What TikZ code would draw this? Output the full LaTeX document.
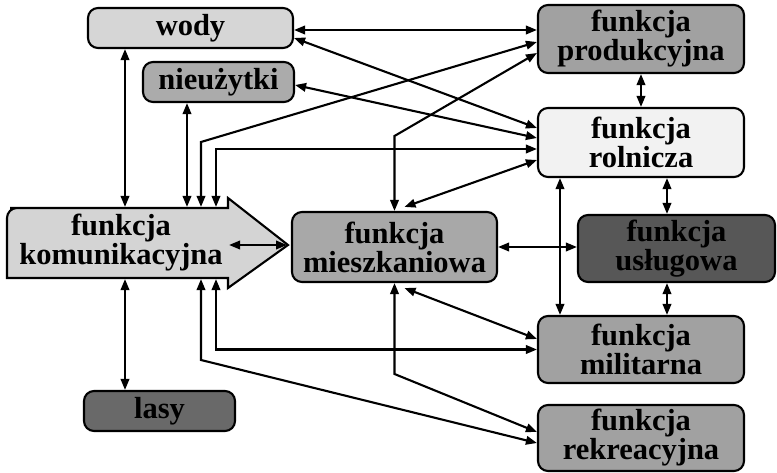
\documentclass[tikz,border=0pt]{standalone}
\usepackage{fontspec}
\setmainfont{Liberation Serif}
\usetikzlibrary{arrows.meta}

\definecolor{cwody}{gray}{0.84}
\definecolor{cnieuz}{gray}{0.67}
\definecolor{cprod}{gray}{0.63}
\definecolor{croln}{gray}{0.95}
\definecolor{ckom}{gray}{0.83}
\definecolor{cmiesz}{gray}{0.66}
\definecolor{cuslug}{gray}{0.34}
\definecolor{cmilit}{gray}{0.63}
\definecolor{crekr}{gray}{0.63}
\definecolor{clasy}{gray}{0.41}

\begin{document}
\begin{tikzpicture}[x=1pt,y=-1pt,
		box/.style={draw, line width=2.1pt, rounded corners=10pt, align=center, inner sep=0pt,
			font=\bfseries\fontsize{30.5}{29}\selectfont},
		conn/.style={{Triangle[length=11pt,width=8.5pt]}-{Triangle[length=11pt,width=8.5pt]}, line width=2.1pt}]
		\useasboundingbox (0,0) rectangle (777,473);
		% columns for the vertical links
		\coordinate (s1) at (125,0);
		\coordinate (s2) at (187,0);
		\coordinate (s3) at (201,0);
		\coordinate (s4) at (216,0);
		\coordinate (s5) at (560,0);
		\coordinate (s6) at (667,0);
		\coordinate (grot) at (287,245);
		% the big arrow
		\filldraw[fill=ckom, line width=2.1pt] (228,208) -- (228,198) -- (288,245) -- (228,288) -- (228,278)
			-- (7,278) [rounded corners=10pt] -- (7,208) -- (20,208) [sharp corners] -- cycle;
		\node[box, draw=none, minimum width=214pt, minimum height=70pt] (komunikacyjna) at (121,243) {funkcja\\komunikacyjna};
		% boxes
		\node[box, fill=cwody, minimum width=205pt, minimum height=40pt] (wody) at (190.5,28) {wody};
		\node[box, fill=cnieuz, minimum width=151pt, minimum height=40pt] (nieuzytki) at (218.5,82) {nieużytki};
		\node[box, fill=cprod, minimum width=206pt, minimum height=68pt] (produkcyjna) at (641,39) {funkcja\\produkcyjna};
		\node[box, fill=croln, minimum width=206pt, minimum height=69pt] (rolnicza) at (641,142.5) {funkcja\\rolnicza};
		\node[box, fill=cmiesz, minimum width=205pt, minimum height=70pt] (mieszkaniowa) at (394.5,247) {funkcja\\mieszkaniowa};
		\node[box, fill=cuslug, minimum width=197pt, minimum height=67pt] (uslugowa) at (676.5,248.5) {funkcja\\usługowa};
		\node[box, fill=cmilit, minimum width=206pt, minimum height=67pt] (militarna) at (641,349.5) {funkcja\\militarna};
		\node[box, fill=crekr, minimum width=206pt, minimum height=66pt] (rekreacyjna) at (641,438) {funkcja\\rekreacyjna};
		\node[box, fill=clasy, minimum width=151pt, minimum height=40pt] (lasy) at (159.5,411) {lasy};
		% links above the arrow
		\draw[conn] (wody.south -| s1) -- (komunikacyjna.north -| s1);
		\draw[conn] (nieuzytki.south -| s2) -- (komunikacyjna.north -| s2);
		\draw[conn] (komunikacyjna.north -| s3) -- (201,142) -- ([yshift=-3pt]produkcyjna.west);
		\draw[conn] (komunikacyjna.north -| s4) |- ([yshift=-6.5pt]rolnicza.west);
		\draw[conn] ([yshift=-2pt]wody.east) -- ([yshift=9pt]produkcyjna.west);
		\draw[conn] ([yshift=-10pt]wody.east) -- ([yshift=14.5pt]rolnicza.west);
		\draw[conn] ([yshift=-3pt]nieuzytki.east) -- ([yshift=4.5pt]rolnicza.west);
		\draw[conn] (mieszkaniowa.north) -- (394.5,136) -- ([yshift=-14pt]produkcyjna.west);
		\draw[conn] ([xshift=10pt,yshift=4pt]mieszkaniowa.north) -- ([yshift=-17.5pt]rolnicza.west);
		% right column
		\draw[conn] (produkcyjna.south) -- (rolnicza.north);
		\draw[conn] (rolnicza.south -| s6) -- (uslugowa.north -| s6);
		\draw[conn] (rolnicza.south -| s5) -- (militarna.north -| s5);
		\draw[conn] (mieszkaniowa.east) -- (mieszkaniowa.east -| uslugowa.west);
		\draw[conn] (uslugowa.south -| s6) -- (militarna.north -| s6);
		\draw[conn] (komunikacyjna.east |- grot) -- (grot);
		% links below the arrow
		\draw[conn] (komunikacyjna.south -| s1) -- (lasy.north -| s1);
		\draw[conn] (komunikacyjna.south -| s3) -- (201,360) -- ([yshift=-5pt]rekreacyjna.west);
		\draw[conn] (komunikacyjna.south -| s4) |- (militarna.west);
		\draw[conn] (mieszkaniowa.south) -- (394.5,374) -- ([yshift=6pt]rekreacyjna.west);
		\draw[conn] ([xshift=10pt,yshift=-5pt]mieszkaniowa.south) -- ([yshift=10.5pt]militarna.west);
	\end{tikzpicture}
\end{document}
